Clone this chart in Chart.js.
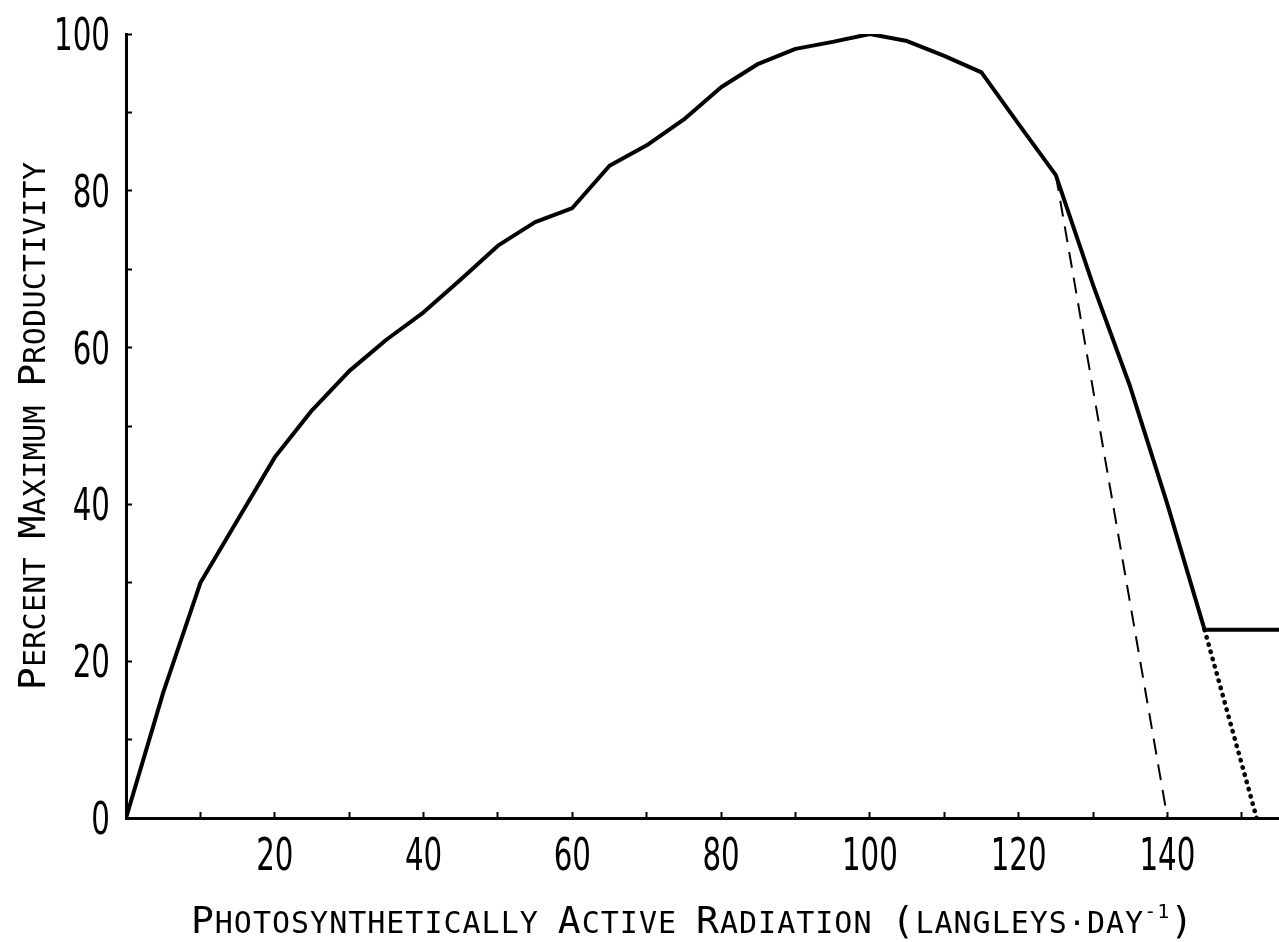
<!DOCTYPE html>
<html><head><meta charset="utf-8">
<script src="https://cdn.jsdelivr.net/npm/chart.js@4/dist/chart.umd.min.js"></script>
<style>html,body{margin:0;padding:0;background:#fff;overflow:hidden}</style>
</head><body>
<canvas id="c" width="1279" height="942"></canvas>
<script>
// ---- data ----
const radiation    = [0,5,10,15,20,25,30,35,40,45,50,55,60,65,70,75,80,85,90,95,100,105,110,115,120,125,130,135,140,145,155];
const productivity = [0,16,30,38,46,52,57,61,64.5,68.7,73,76,77.8,83.2,85.8,89.1,93.2,96.2,98.1,99,100,99.1,97.2,95.1,88.5,82,68,55,40,24,24];
const dashedX = [125,140];
const dashedY = [82,0];
const dottedX = [145,152];
const dottedY = [24,0];
const xTickValues  = [10,20,30,40,50,60,70,80,90,100,110,120,130,140,150];
const xLabelValues = [20,40,60,80,100,120,140];
const yTickValues  = [0,10,20,30,40,50,60,70,80,90,100];
const yLabelValues = [0,20,40,60,80,100];
const xTitle = 'Photosynthetically Active Radiation (langleys\u00B7day';
const xTitleSup = '-1';
const xTitleEnd = ')';
const yTitle = 'Percent Maximum Productivity';

const toPts = (xs, ys) => xs.map((x,i)=>({x, y: ys[i]}));
const TICK_FONT = "'DejaVu Sans Condensed','DejaVu Sans',sans-serif";
const TITLE_FONT = "'DejaVu Sans Mono',monospace";

function scTokens(parts){
  const toks = [];
  parts.forEach(p=>{
    for (const c of p.text){
      if (p.sup) toks.push({ch:c, size:20, dy:-15});
      else if (/[A-Z()]/.test(c)) toks.push({ch:c, size:38, dy:0});
      else if (/[a-z]/.test(c)) toks.push({ch:c.toUpperCase(), size:30, dy:0});
      else toks.push({ch:c, size:30, dy:0});
    }
  });
  return toks;
}
function drawSC(ctx, parts, cx, baseY, spacing){
  const toks = scTokens(parts);
  let total = 0;
  toks.forEach(t=>{ ctx.font = t.size+'px '+TITLE_FONT; t.w = ctx.measureText(t.ch).width + spacing; total += t.w; });
  let x = cx - total/2;
  ctx.textBaseline = 'alphabetic'; ctx.textAlign = 'left'; ctx.fillStyle = '#000';
  toks.forEach(t=>{ ctx.font = t.size+'px '+TITLE_FONT; ctx.fillText(t.ch, x, baseY + t.dy); x += t.w; });
}
// tick labels: condensed digits placed at the scales' own tick pixels
function drawTickLabel(ctx, text, x, y, align){
  const sx = 0.74;
  ctx.save();
  ctx.translate(x, y);
  ctx.scale(sx, 1);
  ctx.font = '44px '+TICK_FONT;
  ctx.fillStyle = '#000';
  ctx.textAlign = align;
  ctx.textBaseline = 'alphabetic';
  ctx.fillText(text, 0, 0);
  ctx.restore();
}
const labelPlugin = {
  id:'labelsAndTitles',
  afterDraw(chart){
    const ctx = chart.ctx, a = chart.chartArea;
    const sx = chart.scales.x, sy = chart.scales.y;
    xLabelValues.forEach(v => drawTickLabel(ctx, String(v), sx.getPixelForValue(v), a.bottom + 52, 'center'));
    yLabelValues.forEach(v => drawTickLabel(ctx, String(v), a.left - 16, sy.getPixelForValue(v) + 16, 'right'));
    ctx.save();
    drawSC(ctx, [{text:xTitle},{text:xTitleSup, sup:true},{text:xTitleEnd}], (a.left+a.right)/2 - 10, 933, 1);
    ctx.translate(45, (a.top+a.bottom)/2);
    ctx.rotate(-Math.PI/2);
    drawSC(ctx, [{text:yTitle}], 0, 0, 0.3);
    ctx.restore();
  }
};

new Chart(document.getElementById('c'), {
  type:'line',
  data:{ datasets:[
    {data: toPts(radiation, productivity), borderColor:'#000', borderWidth:4, pointRadius:0, tension:0, borderJoinStyle:'round', fill:false},
    {data: toPts(dashedX, dashedY), borderColor:'#000', borderWidth:2, borderDash:[16,10], pointRadius:0, fill:false},
    {data: toPts(dottedX, dottedY), borderColor:'#000', borderWidth:4.5, borderDash:[0.5,7], borderCapStyle:'round', pointRadius:0, fill:false}
  ]},
  options:{
    responsive:false, animation:false, devicePixelRatio:1,
    layout:{ padding:{ top:34, right:0, bottom:0, left:0 } },
    plugins:{ legend:{display:false}, tooltip:{enabled:false} },
    scales:{
      x:{ type:'linear', position:'bottom', min:0, max:155,
        afterBuildTicks: s => { s.ticks = xTickValues.map(v=>({value:v})); },
        afterFit: s => { s.height = 124; },
        ticks:{ display:false, autoSkip:false, maxRotation:0 },
        grid:{ drawOnChartArea:false, drawTicks:true, tickLength:-6, tickWidth:2, tickColor:'#000' },
        border:{ display:true, color:'#000', width:3 } },
      y:{ type:'linear', min:0, max:100,
        afterBuildTicks: s => { s.ticks = yTickValues.map(v=>({value:v})); },
        afterFit: s => { s.width = 126; },
        ticks:{ display:false, autoSkip:false },
        grid:{ drawOnChartArea:false, drawTicks:true, tickLength:-6, tickWidth:2, tickColor:'#000' },
        border:{ display:true, color:'#000', width:3 } }
    }
  },
  plugins:[labelPlugin]
});
</script>
</body></html>
